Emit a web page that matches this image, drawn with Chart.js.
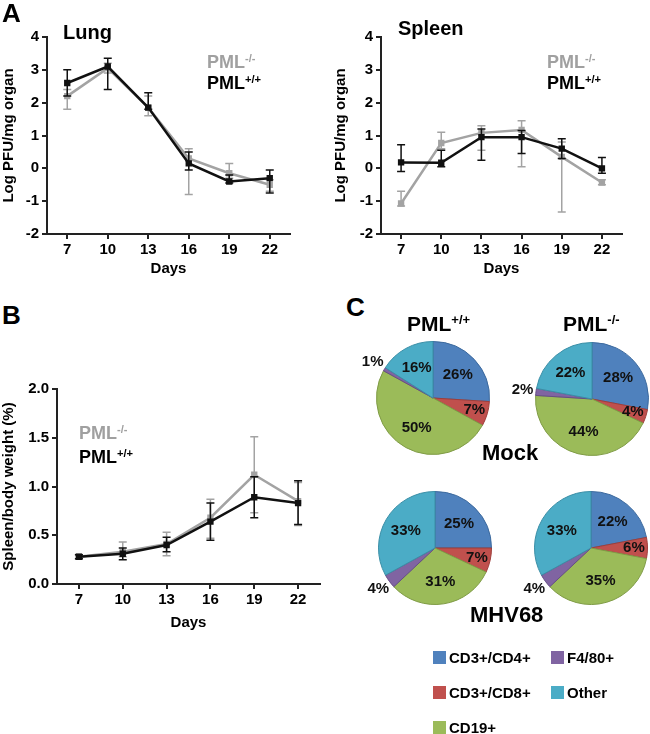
<!DOCTYPE html>
<html>
<head>
<meta charset="utf-8">
<script src="https://cdn.jsdelivr.net/npm/chart.js@4.4.1/dist/chart.umd.min.js"></script>
<style>
  body { margin: 0; background: #fff; overflow: hidden; }
  #wrap { position: relative; width: 650px; height: 734px; font-family: "Liberation Sans", Arial, sans-serif; font-weight: bold; color: #000; }
  canvas, .t { position: absolute; }
  .t { white-space: nowrap; line-height: 1; }
  .t sup { font-size: 62%; vertical-align: 0.55em; line-height: 0; }
  .ko { color: #a0a0a0; }
  .sw { position: absolute; width: 13px; height: 13px; }
</style>
</head>
<body>
<div id="wrap">
  <canvas id="lung" width="320" height="290" style="left:0;top:0"></canvas>
  <canvas id="spleen" width="330" height="290" style="left:320px;top:0"></canvas>
  <canvas id="weight" width="330" height="300" style="left:0;top:340px"></canvas>
  <canvas id="pieMockWt" width="180" height="140" style="left:343px;top:328px"></canvas>
  <canvas id="pieMockKo" width="180" height="140" style="left:502px;top:329px"></canvas>
  <canvas id="pieMhvWt" width="180" height="140" style="left:345px;top:478px"></canvas>
  <canvas id="pieMhvKo" width="180" height="140" style="left:501px;top:478px"></canvas>

  <div class="t" style="left:2px;top:0;font-size:26px">A</div>
  <div class="t" style="left:63px;top:22px;font-size:20px">Lung</div>
  <div class="t" style="left:398px;top:18px;font-size:20px">Spleen</div>
  <div class="t ko" style="left:207px;top:53px;font-size:18px">PML<sup>-/-</sup></div>
  <div class="t" style="left:207px;top:74px;font-size:18px">PML<sup>+/+</sup></div>
  <div class="t ko" style="left:547px;top:53px;font-size:18px">PML<sup>-/-</sup></div>
  <div class="t" style="left:547px;top:74px;font-size:18px">PML<sup>+/+</sup></div>

  <div class="t" style="left:2px;top:302px;font-size:26px">B</div>
  <div class="t ko" style="left:79px;top:424px;font-size:18px">PML<sup>-/-</sup></div>
  <div class="t" style="left:79px;top:448px;font-size:18px">PML<sup>+/+</sup></div>

  <div class="t" style="left:346px;top:294px;font-size:26px">C</div>
  <div class="t" style="left:407px;top:313px;font-size:21px">PML<sup>+/+</sup></div>
  <div class="t" style="left:563px;top:313px;font-size:21px">PML<sup>-/-</sup></div>
  <div class="t" style="left:482px;top:442px;font-size:22px">Mock</div>
  <div class="t" style="left:470px;top:604px;font-size:22px">MHV68</div>

  <div id="legend"></div>
</div>
<script>
// x categories (days post infection)
const days = ['7', '10', '13', '16', '19', '22'];

// Lung titres, log PFU/mg organ
const lungWtMean = [2.6, 3.1, 1.85, 0.15, -0.4, -0.3];
const lungWtLow = [2.2, 2.4, 1.8, -0.05, -0.45, -0.75];
const lungWtHigh = [3.0, 3.35, 2.3, 0.5, -0.2, -0.05];
const lungKoMean = [2.2, 3.05, 1.85, 0.3, -0.15, -0.5];
const lungKoLow = [1.8, 2.9, 1.6, -0.8, -0.3, -0.7];
const lungKoHigh = [2.4, 3.2, 2.2, 0.6, 0.15, -0.35];

// Spleen titres, log PFU/mg organ
const spleenWtMean = [0.18, 0.17, 0.95, 0.95, 0.6, 0.0];
const spleenWtLow = [-0.1, 0.05, 0.25, 0.45, 0.3, -0.15];
const spleenWtHigh = [0.72, 0.55, 1.2, 1.15, 0.9, 0.33];
const spleenKoMean = [-1.07, 0.77, 1.08, 1.17, 0.35, -0.43];
const spleenKoLow = [-1.15, 0.6, 0.55, 0.05, -1.33, -0.5];
const spleenKoHigh = [-0.7, 1.1, 1.3, 1.45, 0.8, -0.35];

// Spleen/body weight (%)
const weightWtMean = [0.28, 0.31, 0.40, 0.64, 0.89, 0.83];
const weightWtLow = [0.26, 0.25, 0.33, 0.45, 0.68, 0.61];
const weightWtHigh = [0.30, 0.37, 0.48, 0.83, 1.10, 1.06];
const weightKoMean = [0.28, 0.33, 0.41, 0.68, 1.12, 0.85];
const weightKoLow = [0.26, 0.28, 0.29, 0.47, 0.73, 0.60];
const weightKoHigh = [0.30, 0.43, 0.53, 0.87, 1.51, 1.04];

// Spleen cell populations (%)
const cellTypes = ['CD3+/CD4+', 'CD3+/CD8+', 'CD19+', 'F4/80+', 'Other'];
const cellColors = ['#4F81BD', '#C0504D', '#9BBB59', '#8064A2', '#4BACC6'];
const cellEdges = ['#3d6a9e', '#9e3d3a', '#7f9b45', '#654d85', '#3a8ea6'];
const mockWt = [26, 7, 50, 1, 16];
const mockKo = [28, 4, 44, 2, 22];
const mhvWt = [25, 7, 31, 4, 33];
const mhvKo = [22, 6, 35, 4, 33];

const FONT = 'Liberation Sans, Arial, sans-serif';
const BLACK = '#111111';
const GREY = '#a3a3a3';
const AXIS = '#222222';

// whiskers drawn right after each dataset so the black series stays on top
const errorBars = {
    id: 'errorBars',
    afterDatasetDraw(chart, args) {
        const ds = chart.data.datasets[args.index];
        if (!ds.errLow) return;
        const y = chart.scales.y;
        const ctx = chart.ctx;
        ctx.save();
        ctx.strokeStyle = ds.borderColor;
        ctx.lineWidth = 1.5;
        args.meta.data.forEach((pt, j) => {
            const lo = y.getPixelForValue(ds.errLow[j]);
            const hi = y.getPixelForValue(ds.errHigh[j]);
            ctx.beginPath();
            ctx.moveTo(pt.x, lo); ctx.lineTo(pt.x, hi);
            ctx.moveTo(pt.x - 4, lo); ctx.lineTo(pt.x + 4, lo);
            ctx.moveTo(pt.x - 4, hi); ctx.lineTo(pt.x + 4, hi);
            ctx.stroke();
        });
        ctx.restore();
    }
};

function series(mean, low, high, color) {
    return {
        data: mean, errLow: low, errHigh: high,
        borderColor: color, backgroundColor: color,
        borderWidth: 2.5, pointStyle: 'rect', pointRadius: 4.5,
        pointBorderWidth: 0, tension: 0
    };
}

function lineChart(id, wt, ko, opt) {
    new Chart(document.getElementById(id), {
        type: 'line',
        data: { labels: days, datasets: [wt, ko] },
        plugins: [errorBars],
        options: {
            responsive: false,
            animation: false,
            devicePixelRatio: 1,
            layout: { padding: opt.padding },
            plugins: { legend: { display: false }, tooltip: { enabled: false } },
            scales: {
                x: {
                    offset: true,
                    grid: { drawOnChartArea: false, color: AXIS, lineWidth: 2, tickLength: 5 },
                    border: { color: AXIS, width: 2 },
                    ticks: { color: '#000', font: { family: FONT, size: 15, weight: 'bold' }, padding: 2 },
                    title: { display: true, text: 'Days', color: '#000', font: { family: FONT, size: 15, weight: 'bold' }, padding: 0 },
                    afterFit(s) { s.height = opt.xHeight; }
                },
                y: {
                    min: opt.min, max: opt.max,
                    grid: { drawOnChartArea: false, color: AXIS, lineWidth: 2, tickLength: 5 },
                    border: { color: AXIS, width: 2 },
                    ticks: {
                        stepSize: opt.step, color: '#000', padding: 3,
                        font: { family: FONT, size: 15, weight: 'bold' },
                        callback: opt.fmt || (v => v)
                    },
                    title: { display: true, text: opt.title, color: '#000', font: { family: FONT, size: 15, weight: 'bold' }, padding: 0 },
                    afterFit(s) { s.width = opt.yWidth; }
                }
            }
        }
    });
}

lineChart('lung',
    series(lungWtMean, lungWtLow, lungWtHigh, BLACK),
    series(lungKoMean, lungKoLow, lungKoHigh, GREY),
    { min: -2, max: 4, step: 1, title: 'Log PFU/mg organ', padding: { left: 0, top: 37, right: 30, bottom: 12 }, yWidth: 47, xHeight: 44 });

lineChart('spleen',
    series(spleenWtMean, spleenWtLow, spleenWtHigh, BLACK),
    series(spleenKoMean, spleenKoLow, spleenKoHigh, GREY),
    { min: -2, max: 4, step: 1, title: 'Log PFU/mg organ', padding: { left: 12, top: 37, right: 28, bottom: 12 }, yWidth: 49, xHeight: 44 });

lineChart('weight',
    series(weightWtMean, weightWtLow, weightWtHigh, BLACK),
    series(weightKoMean, weightKoLow, weightKoHigh, GREY),
    { min: 0, max: 2, step: 0.5, title: 'Spleen/body weight (%)', fmt: v => v.toFixed(1), padding: { left: 0, top: 49, right: 10, bottom: 8 }, yWidth: 57, xHeight: 48 });

// percentage labels: inside the slice, F4/80+ outside the pie
const pieLabels = {
    id: 'pieLabels',
    afterDatasetsDraw(chart) {
        const ctx = chart.ctx;
        const vals = chart.data.datasets[0].data;
        ctx.save();
        ctx.font = 'bold 15px ' + FONT;
        ctx.fillStyle = '#111';
        ctx.textAlign = 'center';
        ctx.textBaseline = 'middle';
        chart.getDatasetMeta(0).data.forEach((arc, i) => {
            const p = arc.getProps(['x', 'y', 'startAngle', 'endAngle', 'outerRadius']);
            const a = (p.startAngle + p.endAngle) / 2;
            let f = vals[i] < 10 ? 0.76 : 0.6;
            if (i === 3) f = 1.24;
            ctx.fillText(vals[i] + '%', p.x + Math.cos(a) * p.outerRadius * f, p.y + Math.sin(a) * p.outerRadius * f);
        });
        ctx.restore();
    }
};

function pieChart(id, values) {
    new Chart(document.getElementById(id), {
        type: 'pie',
        data: {
            labels: cellTypes,
            datasets: [{ data: values, backgroundColor: cellColors, borderColor: cellEdges, borderWidth: 1 }]
        },
        plugins: [pieLabels],
        options: {
            responsive: false,
            animation: false,
            devicePixelRatio: 1,
            layout: { padding: { left: 33, right: 33, top: 13, bottom: 13 } },
            plugins: { legend: { display: false }, tooltip: { enabled: false } }
        }
    });
}

pieChart('pieMockWt', mockWt);
pieChart('pieMockKo', mockKo);
pieChart('pieMhvWt', mhvWt);
pieChart('pieMhvKo', mhvKo);

// legend for the pies
const legendPos = [[433, 651], [433, 686], [433, 721], [551, 651], [551, 686]];
const legend = document.getElementById('legend');
cellTypes.forEach((name, i) => {
    const [x, y] = legendPos[i];
    legend.innerHTML += `<div class="sw" style="left:${x}px;top:${y}px;background:${cellColors[i]}"></div>` +
        `<div class="t" style="left:${x + 16}px;top:${y - 1}px;font-size:15px">${name}</div>`;
});
</script>
</body>
</html>
